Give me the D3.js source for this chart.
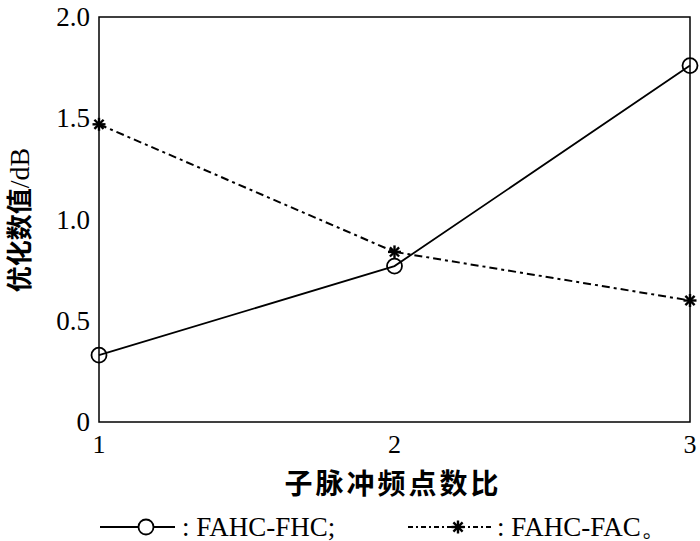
<!DOCTYPE html>
<html><head><meta charset="utf-8">
<script src="https://cdn.jsdelivr.net/npm/d3@7"></script>
<style>body{margin:0;background:#fff}</style>
</head><body>
<svg id="c" width="700" height="541"></svg>
<script>
const xCats = [1, 2, 3];
const fhc = [0.33, 0.77, 1.76];
const fac = [1.47, 0.84, 0.60];
const yTicks = [0, 0.5, 1.0, 1.5, 2.0];
const yTickLabels = ["0", "0.5", "1.0", "1.5", "2.0"];
const xTickLabels = ["1", "2", "3"];
const legendLabels = [": FAHC-FHC;", ": FAHC-FAC\u3002"];

const svg = d3.select("#c");
const L = 99, R = 690, T = 17, B = 422;
const x = d3.scaleLinear().domain([1, 3]).range([L, R]);
const y = d3.scaleLinear().domain([0, 2]).range([B, T]);
const serif = "'Liberation Serif','Times New Roman',serif";
const cjk = "'Noto Sans CJK SC',sans-serif";

svg.append("rect").attr("x", L).attr("y", T).attr("width", R - L).attr("height", B - T)
  .attr("fill", "none").attr("stroke", "#000").attr("stroke-width", 1.5);

svg.append("g").selectAll("text").data(yTicks).join("text")
  .attr("x", L - 9).attr("y", d => y(d) + 9).attr("text-anchor", "end")
  .attr("font-family", serif).attr("font-size", 27)
  .text((d, i) => yTickLabels[i]);

svg.append("g").selectAll("text").data(xCats).join("text")
  .attr("x", d => x(d)).attr("y", B + 31).attr("text-anchor", "middle")
  .attr("font-family", serif).attr("font-size", 26)
  .text((d, i) => xTickLabels[i]);

const yl = svg.append("text").attr("transform", `translate(29,220) rotate(-90)`)
  .attr("text-anchor", "middle").attr("font-size", 26);
yl.append("tspan").attr("font-family", cjk).attr("font-weight", "bold").text("优化数值");
yl.append("tspan").attr("font-family", serif).attr("font-size", 28).text("/dB");

svg.append("text").attr("x", 393).attr("y", 494).attr("text-anchor", "middle")
  .attr("font-family", cjk).attr("font-weight", "bold").attr("font-size", 28)
  .attr("letter-spacing", 3).text("子脉冲频点数比");

const line = d3.line().x((d, i) => x(xCats[i])).y(d => y(d));

svg.append("path").datum(fhc).attr("d", line).attr("fill", "none")
  .attr("stroke", "#000").attr("stroke-width", 1.8);
svg.append("path").datum(fac).attr("d", line).attr("fill", "none")
  .attr("stroke", "#000").attr("stroke-width", 2).attr("stroke-dasharray", "8,4,3,4");

svg.append("g").selectAll("circle").data(fhc).join("circle")
  .attr("cx", (d, i) => x(xCats[i])).attr("cy", d => y(d)).attr("r", 7.5)
  .attr("fill", "none").attr("stroke", "#000").attr("stroke-width", 1.8);

function star(g, cx, cy, r) {
  for (let a = 0; a < 4; a++) {
    const ang = a * Math.PI / 4;
    g.append("line").attr("x1", cx - r * Math.cos(ang)).attr("y1", cy - r * Math.sin(ang))
      .attr("x2", cx + r * Math.cos(ang)).attr("y2", cy + r * Math.sin(ang))
      .attr("stroke", "#000").attr("stroke-width", 2.4);
  }
}
const sg = svg.append("g");
fac.forEach((d, i) => star(sg, x(xCats[i]), y(d), 6.5));

// legend
const ly = 527;
svg.append("line").attr("x1", 100).attr("x2", 175).attr("y1", ly).attr("y2", ly)
  .attr("stroke", "#000").attr("stroke-width", 1.8);
svg.append("circle").attr("cx", 146).attr("cy", ly).attr("r", 7.5)
  .attr("fill", "#fff").attr("stroke", "#000").attr("stroke-width", 1.8);
svg.append("text").attr("x", 182).attr("y", ly + 9).attr("font-family", serif)
  .attr("font-size", 27).text(legendLabels[0]);

svg.append("line").attr("x1", 408).attr("x2", 492).attr("y1", ly).attr("y2", ly)
  .attr("stroke", "#000").attr("stroke-width", 2).attr("stroke-dasharray", "5,3,2,3");
star(svg, 458, ly, 6.5);
svg.append("text").attr("x", 497).attr("y", ly + 9).attr("font-family", serif)
  .attr("font-size", 27).text(legendLabels[1]);
</script>
</body></html>
